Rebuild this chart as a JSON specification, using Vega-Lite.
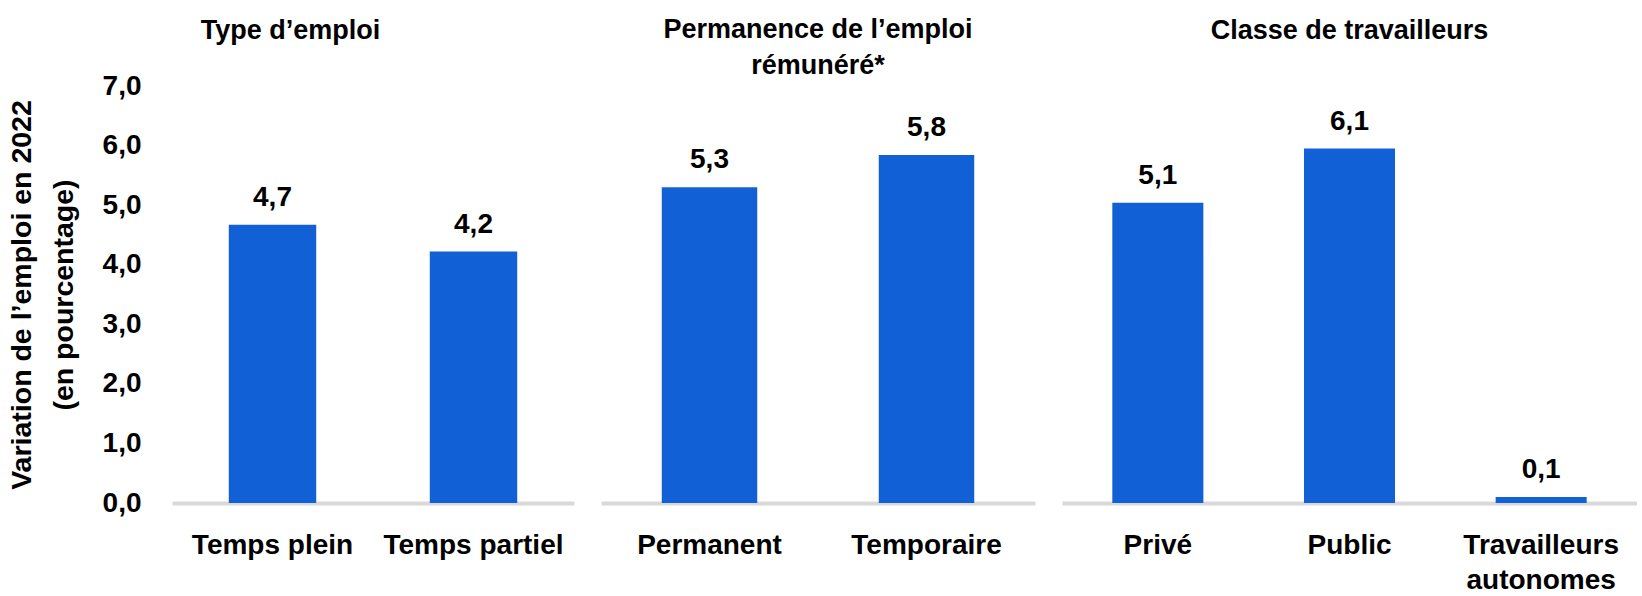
{
  "$schema": "https://vega.github.io/schema/vega-lite/v6.json",
  "background": "white",
  "padding": {"left": 7, "top": 16, "right": 0, "bottom": 0},
  "config": {
    "font": "Liberation Sans",
    "view": {"stroke": null},
    "axis": {
      "labelFont": "Liberation Sans",
      "labelFontWeight": "bold",
      "labelFontSize": 28,
      "labelColor": "#000000",
      "titleFont": "Liberation Sans",
      "titleFontWeight": "bold",
      "titleColor": "#000000",
      "grid": false,
      "ticks": false,
      "tickSize": 0
    },
    "title": {
      "font": "Liberation Sans",
      "fontSize": 27,
      "fontWeight": "bold",
      "color": "#000000",
      "lineHeight": 36,
      "anchor": "middle",
      "frame": "bounds"
    }
  },
  "data": {
    "values": [
      {"groupe": "type", "categorie": "Temps plein", "valeur": 4.67, "etiquette": "4,7"},
      {"groupe": "type", "categorie": "Temps partiel", "valeur": 4.22, "etiquette": "4,2"},
      {"groupe": "permanence", "categorie": "Permanent", "valeur": 5.3, "etiquette": "5,3"},
      {"groupe": "permanence", "categorie": "Temporaire", "valeur": 5.84, "etiquette": "5,8"},
      {"groupe": "classe", "categorie": "Privé", "valeur": 5.04, "etiquette": "5,1"},
      {"groupe": "classe", "categorie": "Public", "valeur": 5.95, "etiquette": "6,1"},
      {"groupe": "classe", "categorie": "Travailleurs autonomes", "valeur": 0.1, "etiquette": "0,1"}
    ]
  },
  "bounds": "flush",
  "spacing": 27,
  "hconcat": [
    {
      "width": 402,
      "height": 417,
      "title": {"text": "Type d’emploi", "offset": 27},
      "transform": [{"filter": "datum.groupe === 'type'"}],
      "encoding": {
        "x": {
          "field": "categorie", "type": "nominal", "sort": null,
          "scale": {"paddingInner": 0.565, "paddingOuter": 0.2825},
          "axis": {"title": null, "labelAngle": 0, "domainColor": "#d9d9d9", "domainWidth": 4, "labelPadding": 28, "labelLineHeight": 35, "labelLimit": 0, "labelBaseline": "top"}
        },
        "y": {
          "field": "valeur", "type": "quantitative",
          "scale": {"domain": [0, 7], "nice": false},
          "axis": {
            "title": ["Variation de l’emploi en 2022", "(en pourcentage)"],
            "titleFontSize": 28.5,
            "titleLineHeight": 42,
            "titlePadding": 24,
            "domain": false,
            "values": [0, 1, 2, 3, 4, 5, 6, 7],
            "labelExpr": "replace(format(datum.value, '.1f'), '.', ',')",
            "labelPadding": 31
          }
        }
      },
      "layer": [
        {"mark": {"type": "bar", "color": "#1160d5"}},
        {"mark": {"type": "text", "dy": -19, "baseline": "alphabetic", "fontSize": 28, "fontWeight": "bold", "font": "Liberation Sans", "color": "#000000"}, "encoding": {"text": {"field": "etiquette"}}}
      ]
    },
    {
      "width": 434,
      "height": 417,
      "title": {"text": ["Permanence de l’emploi", "rémunéré*"], "offset": 6},
      "transform": [{"filter": "datum.groupe === 'permanence'"}],
      "encoding": {
        "x": {
          "field": "categorie", "type": "nominal", "sort": null,
          "scale": {"paddingInner": 0.56, "paddingOuter": 0.28},
          "axis": {"title": null, "labelAngle": 0, "domainColor": "#d9d9d9", "domainWidth": 4, "labelPadding": 28, "labelLineHeight": 35, "labelLimit": 0, "labelBaseline": "top"}
        },
        "y": {
          "field": "valeur", "type": "quantitative",
          "scale": {"domain": [0, 7], "nice": false},
          "axis": null
        }
      },
      "layer": [
        {"mark": {"type": "bar", "color": "#1160d5"}},
        {"mark": {"type": "text", "dy": -19, "baseline": "alphabetic", "fontSize": 28, "fontWeight": "bold", "font": "Liberation Sans", "color": "#000000"}, "encoding": {"text": {"field": "etiquette"}}}
      ]
    },
    {
      "width": 575,
      "height": 417,
      "title": {"text": "Classe de travailleurs", "offset": 41},
      "transform": [{"filter": "datum.groupe === 'classe'"}],
      "encoding": {
        "x": {
          "field": "categorie", "type": "nominal", "sort": null,
          "scale": {"paddingInner": 0.525, "paddingOuter": 0.2625},
          "axis": {"title": null, "labelAngle": 0, "domainColor": "#d9d9d9", "domainWidth": 4, "labelPadding": 28, "labelLineHeight": 35, "labelLimit": 0, "labelBaseline": "top",
            "labelExpr": "datum.label === 'Travailleurs autonomes' ? ['Travailleurs', 'autonomes'] : datum.label"}
        },
        "y": {
          "field": "valeur", "type": "quantitative",
          "scale": {"domain": [0, 7], "nice": false},
          "axis": null
        }
      },
      "layer": [
        {"mark": {"type": "bar", "color": "#1160d5"}},
        {"mark": {"type": "text", "dy": -19, "baseline": "alphabetic", "fontSize": 28, "fontWeight": "bold", "font": "Liberation Sans", "color": "#000000"}, "encoding": {"text": {"field": "etiquette"}}}
      ]
    }
  ]
}
